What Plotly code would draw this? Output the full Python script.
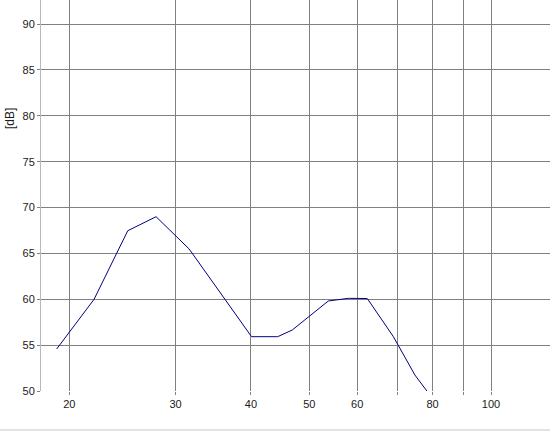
import plotly.graph_objects as go

freq = [19.06, 21.98, 25.0, 27.85, 31.6, 37.18, 40.1, 44.3, 46.84, 53.74, 58.0, 62.37, 68.9, 74.8, 78.3]
level_db = [54.58, 59.99, 67.47, 69.0, 65.48, 59.01, 55.92, 55.92, 56.65, 59.81, 60.10, 60.08, 55.92, 51.74, 50.0]

x_grid = [20, 30, 40, 50, 60, 70, 80, 90, 100]
x_labels = ["20", "30", "40", "50", "60", "", "80", "", "100"]
y_ticks = [50, 55, 60, 65, 70, 75, 80, 85, 90]

fig = go.Figure()
fig.add_trace(go.Scatter(x=freq, y=level_db, mode="lines",
                         line=dict(color="#000080", width=1), showlegend=False,
                         hoverinfo="skip"))

fig.update_layout(
    width=550, height=431,
    margin=dict(l=41, r=0, t=0, b=40),
    paper_bgcolor="white", plot_bgcolor="white",
    font=dict(family="Liberation Sans, Arial, sans-serif", size=11, color="#1a1a1a"),
    xaxis=dict(type="log", range=[1.25412, 2.0978],
               tickvals=x_grid, ticktext=x_labels,
               showgrid=True, gridcolor="#808080", gridwidth=1,
               ticks="outside", ticklen=3, tickcolor="#808080",
               showline=False, zeroline=False),
    yaxis=dict(range=[50, 92.62], tickvals=y_ticks,
               showgrid=True, gridcolor="#808080", gridwidth=1,
               ticks="outside", ticklen=3, tickcolor="#808080",
               showline=True, linecolor="#b8b8b8", linewidth=1,
               zeroline=False),
    annotations=[dict(text="[dB]", xref="paper", yref="paper",
                      x=-0.061, y=0.698, textangle=-90, showarrow=False,
                      xanchor="center", yanchor="middle",
                      font=dict(size=12, color="#1a1a1a"))],
    shapes=[dict(type="line", xref="paper", yref="paper",
                 x0=-0.081, x1=1, y0=-0.0997, y1=-0.0997,
                 line=dict(color="#c8c8c8", width=1))],
)

fig.write_html("out.html", config={"displayModeBar": False},
               post_script="document.body.style.margin='0';")
